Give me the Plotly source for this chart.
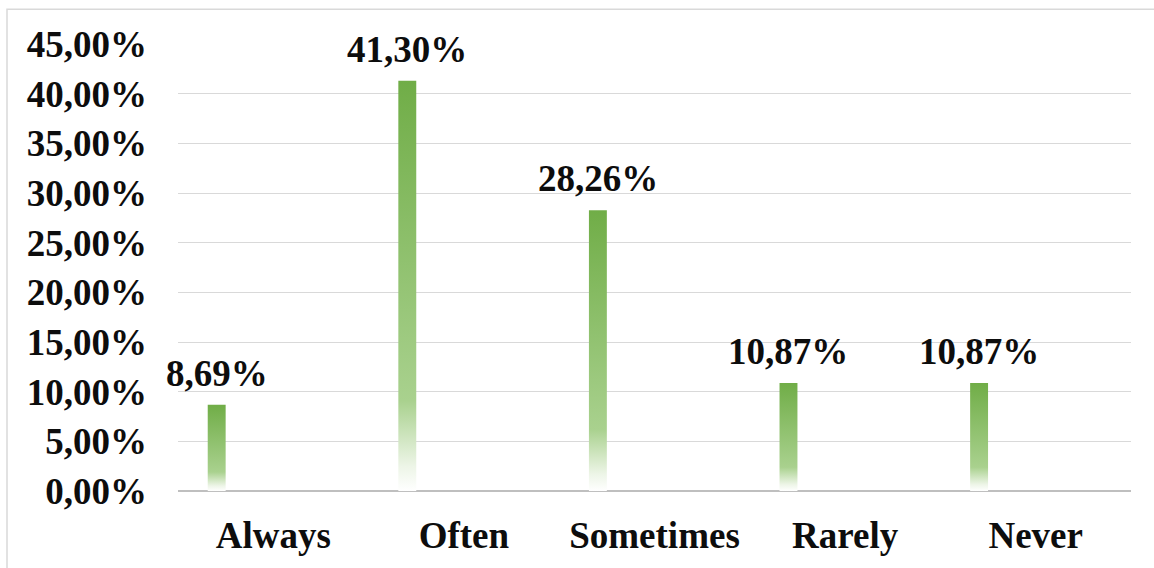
import plotly.graph_objects as go

# Survey answers and their shares (percent)
categories = ["Always", "Often", "Sometimes", "Rarely", "Never"]
shares = [8.69, 41.30, 28.26, 10.87, 10.87]

# Y axis ticks
y_ticks = [0, 5, 10, 15, 20, 25, 30, 35, 40, 45]


def pct(v):
    return f"{v:.2f}%".replace(".", ",")


FONT = "Liberation Serif"
TEXT_COLOR = "#0D0D0D"
FONT_SIZE = 37
BAR_WIDTH = 0.094      # in category units
BAR_OFFSET = -0.344    # left edge of each bar relative to its category centre

W, H = 1154, 568
M_L, M_R, M_T, M_B = 178, 23, 44, 75

# green at the top, fading to white at the base
gradient = [
    [0.0, "#FFFFFF"],
    [0.06, "#EDF5E7"],
    [0.22, "#A9D18E"],
    [1.0, "#70AD47"],
]

fig = go.Figure()

xs = list(range(len(categories)))

# gradient-filled bar bodies
for i, v in zip(xs, shares):
    x0 = i + BAR_OFFSET
    x1 = x0 + BAR_WIDTH
    fig.add_trace(go.Scatter(
        x=[x0, x1, x1, x0, x0],
        y=[0, 0, v, v, 0],
        mode="lines",
        line=dict(width=0, color="rgba(0,0,0,0)"),
        fill="toself",
        fillgradient=dict(type="vertical", colorscale=gradient),
        hoverinfo="skip",
        showlegend=False,
    ))

# bar trace carrying the values (transparent, same geometry)
fig.add_trace(go.Bar(
    x=xs,
    y=shares,
    width=BAR_WIDTH,
    offset=BAR_OFFSET,
    marker=dict(color="rgba(0,0,0,0)", line=dict(width=0)),
    showlegend=False,
    hovertemplate="%{y:.2f}%<extra></extra>",
))

# value labels above each bar
for i, v in zip(xs, shares):
    fig.add_annotation(
        x=i + BAR_OFFSET + BAR_WIDTH / 2,
        y=v,
        text=pct(v),
        showarrow=False,
        yanchor="bottom",
        yshift=9,
        font=dict(family=FONT, size=FONT_SIZE, color=TEXT_COLOR, weight="bold"),
    )

# light chart frame
PW, PH = W - M_L - M_R, H - M_T - M_B
fig.add_shape(
    type="rect", xref="paper", yref="paper",
    x0=(7 - M_L) / PW, x1=(W + 10 - M_L) / PW,
    y0=-(M_B + 10) / PH, y1=(H - 9 - M_B) / PH,
    line=dict(color="#D9D9D9", width=1.5),
    fillcolor="rgba(0,0,0,0)",
    layer="below",
)

tick_font = dict(family=FONT, size=FONT_SIZE, color=TEXT_COLOR, weight="bold")

fig.update_layout(
    width=W,
    height=H,
    margin=dict(l=M_L, r=M_R, t=M_T, b=M_B),
    paper_bgcolor="white",
    plot_bgcolor="white",
    bargap=0,
    font=dict(family=FONT, size=FONT_SIZE, color=TEXT_COLOR),
    xaxis=dict(
        range=[-0.5, len(categories) - 0.5],
        tickmode="array",
        tickvals=xs,
        ticktext=categories,
        tickfont=tick_font,
        showgrid=False,
        zeroline=False,
        showline=False,
        ticks="",
        ticklabelstandoff=19,
        fixedrange=True,
    ),
    yaxis=dict(
        range=[0, 45],
        tickmode="array",
        tickvals=y_ticks,
        ticktext=[pct(t) for t in y_ticks],
        tickfont=tick_font,
        showgrid=True,
        gridcolor="#D9D9D9",
        gridwidth=1.3,
        zeroline=True,
        zerolinecolor="#BFBFBF",
        zerolinewidth=1.5,
        showline=False,
        ticks="",
        ticklabelstandoff=30,
        fixedrange=True,
    ),
)

fig.write_html("out.html")
